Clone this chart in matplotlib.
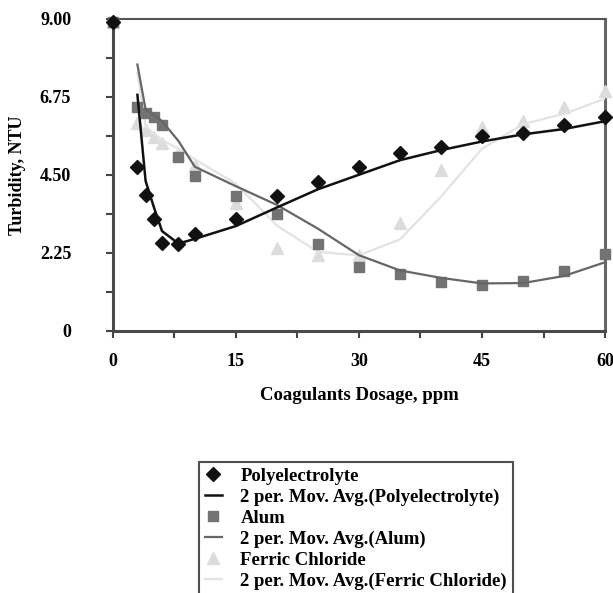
import matplotlib
matplotlib.use("Agg")
import matplotlib.pyplot as plt
import numpy as np
import pandas as pd

plt.rcParams['font.family'] = ['Liberation Serif', 'DejaVu Serif']
plt.rcParams['font.weight'] = 'bold'

dosage = [0, 3, 4, 5, 6, 8, 10, 15, 20, 25, 30, 35, 40, 45, 50, 55, 60]
poly = [8.9, 4.72, 3.93, 3.22, 2.54, 2.5, 2.81, 3.24, 3.88, 4.29, 4.72, 5.13, 5.3, 5.63, 5.71, 5.94, 6.16]
alum = [8.9, 6.47, 6.3, 6.16, 5.95, 5.01, 4.46, 3.89, 3.38, 2.52, 1.85, 1.64, 1.42, 1.32, 1.44, 1.73, 2.23]
ferric = [8.9, 6.0, 5.8, 5.6, 5.42, 5.1, 4.8, 3.7, 2.38, 2.18, 2.18, 3.1, 4.64, 5.87, 6.06, 6.47, 6.93]

yticks = [0, 2.25, 4.5, 6.75, 9.0]
ytick_labels = ['0', '2.25', '4.50', '6.75', '9.00']
xticks = [0, 15, 30, 45, 60]

# 2 period moving averages, like the excel trendline
poly_ma = pd.Series(poly).rolling(2).mean()
alum_ma = pd.Series(alum).rolling(2).mean()
ferric_ma = pd.Series(ferric).rolling(2).mean()

fig = plt.figure(figsize=(6.13, 5.93), dpi=100)
ax = fig.add_axes([0.184, 0.442, 0.803, 0.526])

l_fe, = ax.plot(dosage, ferric, '^', color='#dcdcdc', ms=8, mec='#dcdcdc', clip_on=False, zorder=3,
                label='Ferric Chloride')
l_fe_ma, = ax.plot(dosage, ferric_ma, '-', color='#e3e3e3', lw=1.6, zorder=3,
                   label='2 per. Mov. Avg.(Ferric Chloride)')
l_al, = ax.plot(dosage, alum, 's', color='#737373', ms=7.5, clip_on=False, zorder=4,
                label='Alum')
l_al_ma, = ax.plot(dosage, alum_ma, '-', color='#666666', lw=1.6, zorder=4,
                   label='2 per. Mov. Avg.(Alum)')
l_po, = ax.plot(dosage, poly, 'D', color='#111111', ms=7, clip_on=False, zorder=5,
                label='Polyelectrolyte')
l_po_ma, = ax.plot(dosage, poly_ma, '-', color='#111111', lw=1.8, zorder=5,
                   label='2 per. Mov. Avg.(Polyelectrolyte)')

ax.set_xlim(0, 60)
ax.set_ylim(0, 9)
ax.set_xticks(xticks)
ax.set_xticks(np.arange(0, 61, 7.5), minor=True)
ax.set_yticks(yticks)
ax.set_yticklabels(ytick_labels)
ax.set_yticks(np.arange(0, 9.01, 1.125), minor=True)
ax.tick_params(which='both', direction='out', length=5, width=1.5, color='#444444', labelsize=13)
ax.tick_params(axis='y', which='major', pad=25)
ax.tick_params(axis='x', which='major', pad=11)

for side in ['left', 'bottom']:
    ax.spines[side].set_linewidth(2.2)
    ax.spines[side].set_color('#4a4a4a')
ax.spines['top'].set_linewidth(1.5)
ax.spines['top'].set_color('#555555')
ax.spines['right'].set_linewidth(2.2)
ax.spines['right'].set_color('#666666')

ax.set_xlabel('Coagulants Dosage, ppm', fontsize=13.5, fontweight='bold', labelpad=12)
ax.set_ylabel('Turbidity, NTU', fontsize=13, fontweight='bold', labelpad=10)

handles = [l_po, l_po_ma, l_al, l_al_ma, l_fe, l_fe_ma]
leg = fig.legend(handles, [h.get_label() for h in handles], loc='upper left',
                 bbox_to_anchor=(0.325, 0.221), prop={'size': 13.5, 'weight': 'bold'},
                 frameon=True, fancybox=False,
                 edgecolor='#222222', handlelength=0.9, handletextpad=1.0, labelspacing=0.2,
                 borderpad=0.3, borderaxespad=0)
leg.get_frame().set_linewidth(1.5)

fig.savefig('out.png', dpi=100)
